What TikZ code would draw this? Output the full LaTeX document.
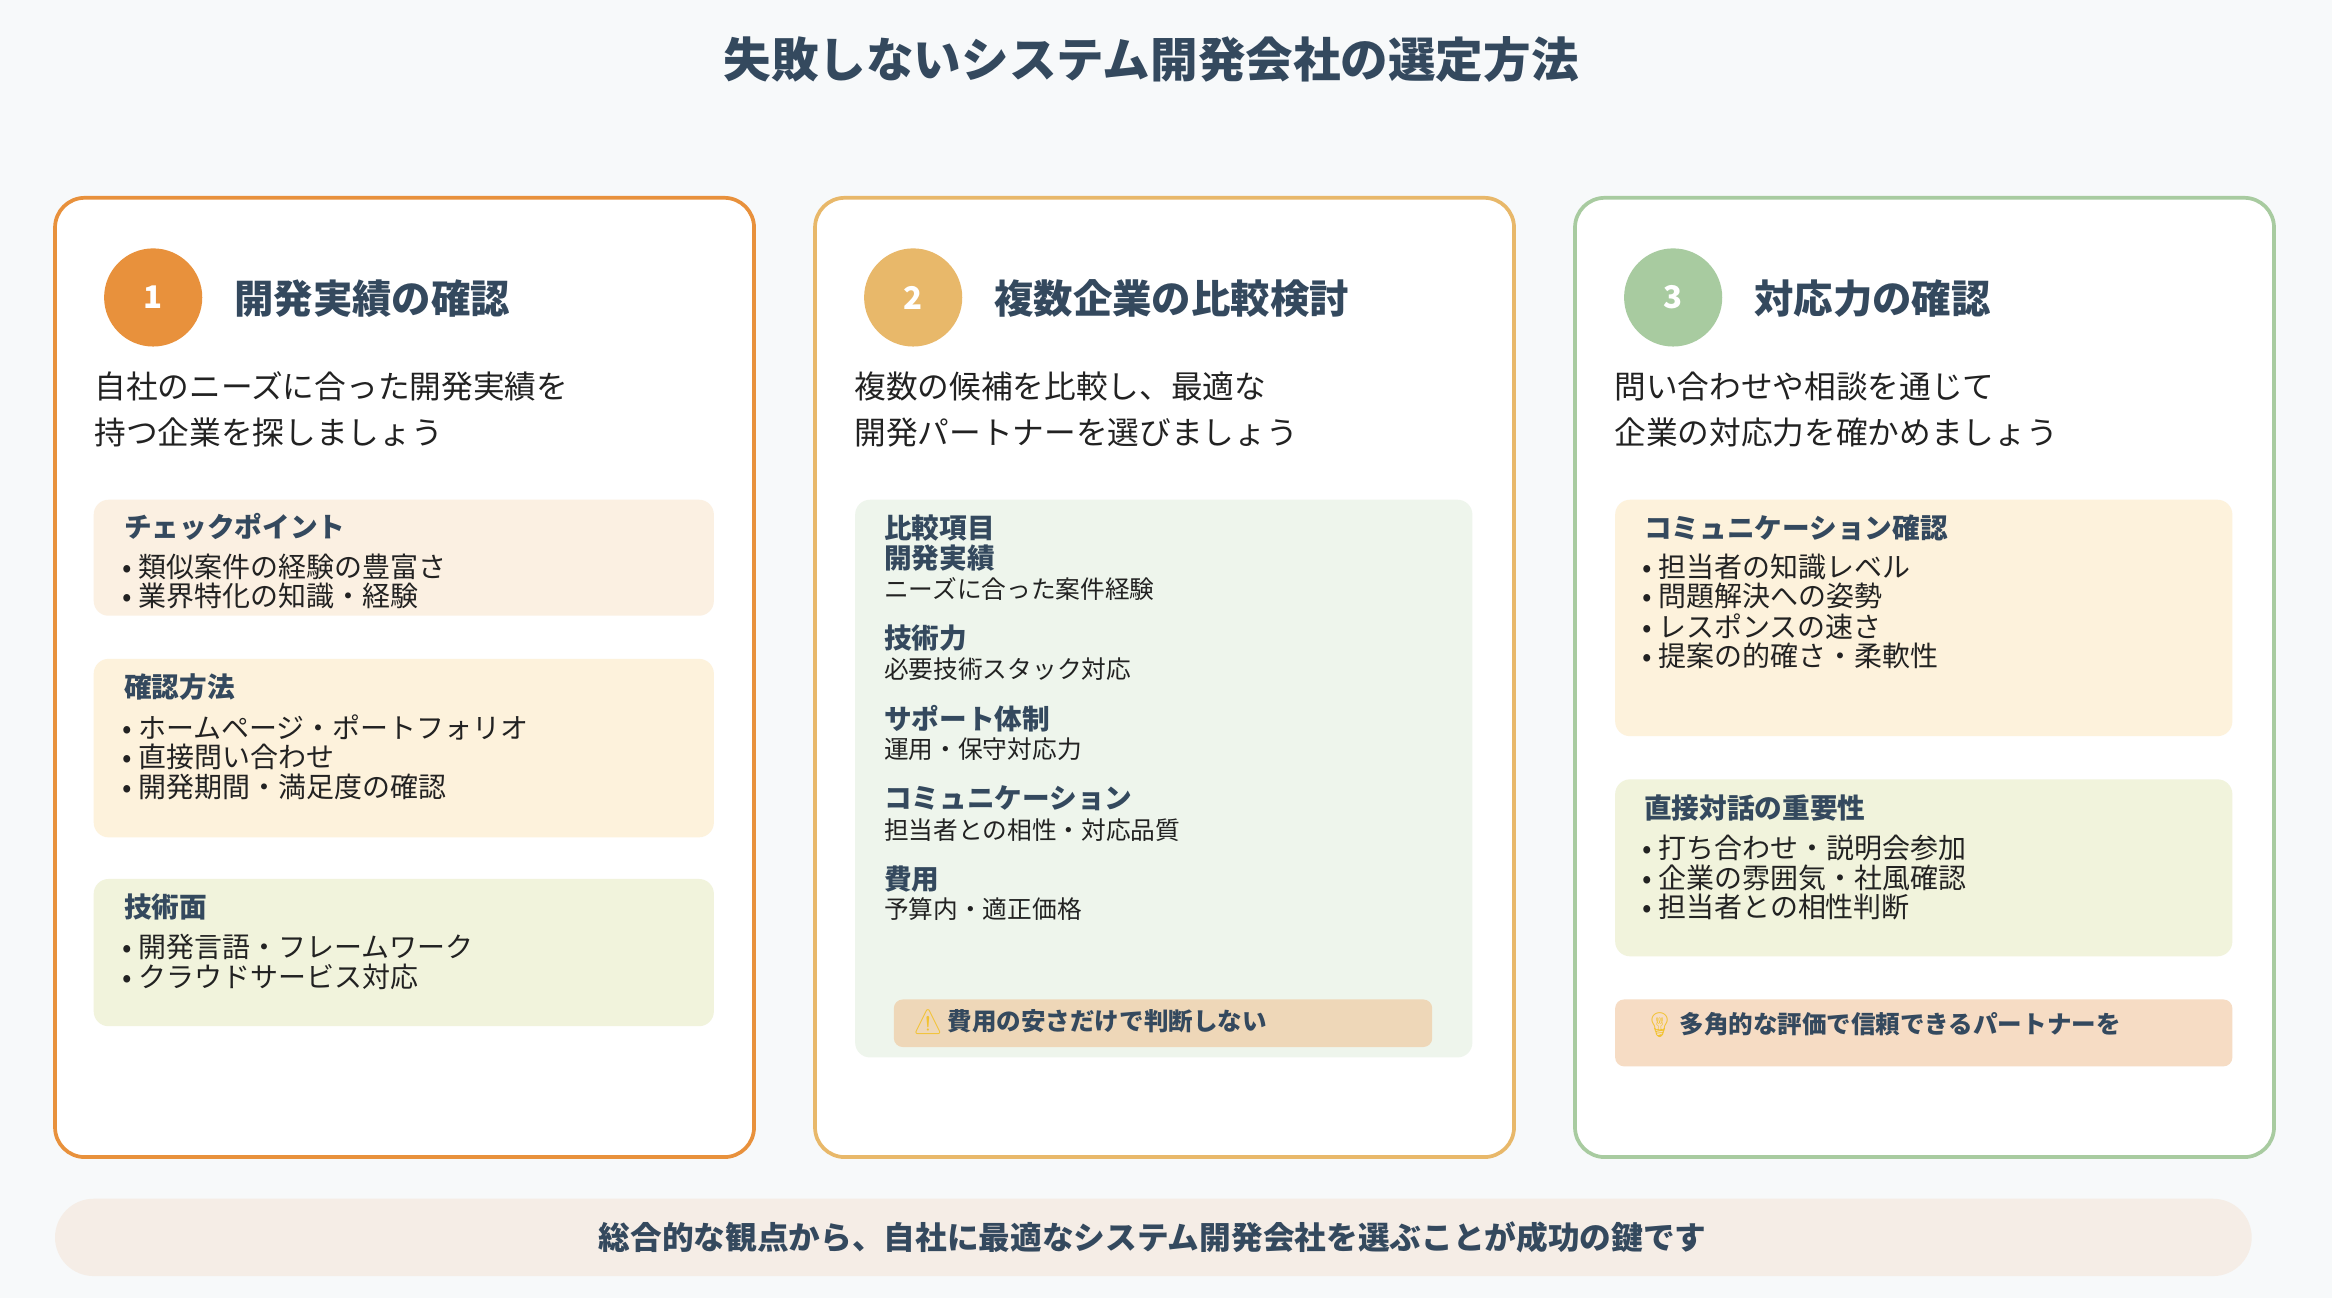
\documentclass[tikz,border=0pt]{standalone}
\usepackage{fontspec}
\setmainfont{Noto Sans CJK JP}
\newfontfamily\emo{Noto Emoji}
\definecolor{bg}{HTML}{F7F9FA}
\definecolor{hd}{HTML}{34495E}
\definecolor{tx}{HTML}{222222}
\definecolor{cA}{HTML}{E8913C}
\definecolor{cB}{HTML}{E8B86A}
\definecolor{cC}{HTML}{A8CBA0}
\definecolor{fA}{HTML}{FBF0E2}
\definecolor{fB}{HTML}{FDF2DC}
\definecolor{fC}{HTML}{F1F3DC}
\definecolor{fG}{HTML}{EEF5EC}
\definecolor{fW}{HTML}{EED7B8}
\definecolor{fT}{HTML}{F6DCC4}
\definecolor{fF}{HTML}{F5EDE6}
\definecolor{wy}{HTML}{F2C230}
\tikzset{
 card/.style={draw=#1,line width=2.5pt,fill=white,rounded corners=20pt},
 sub/.style={fill=#1,rounded corners=10pt},
 num/.style={circle,fill=#1,minimum size=66pt,inner sep=0pt,text=white,font=\fontsize{21}{24}\selectfont\bfseries},
 head/.style={anchor=west,text=hd,font=\fontsize{26.5}{30}\selectfont\bfseries},
 desc/.style={anchor=west,text=tx,font=\fontsize{21.3}{24}\selectfont},
 bt/.style={anchor=west,text=hd,font=\fontsize{18.6}{21}\selectfont\bfseries},
 it/.style={anchor=west,text=tx,font=\fontsize{18.8}{21}\selectfont},
 sm/.style={anchor=west,text=tx,font=\fontsize{16.6}{19}\selectfont},
}
\begin{document}
\begin{tikzpicture}[x=1pt,y=-1pt]
\fill[bg] (0,0) rectangle (1568,873);
\node[text=hd,font=\fontsize{32}{36}\selectfont\bfseries] (title) at (774,40) {失敗しないシステム開発会社の選定方法};
% cards
\draw[card=cA] (37,133) rectangle (507,778);
\draw[card=cB] (548,133) rectangle (1018,778);
\draw[card=cC] (1059,133) rectangle (1529,778);
% card 1
\node[num=cA] (n1) at (103,200) {1};
\node[head] (h1) at (154,201) {開発実績の確認};
\node[desc] (d1a) at (60,260) {自社のニーズに合った開発実績を};
\node[desc] (d1b) at (60,291) {持つ企業を探しましょう};
\fill[sub=fA] (63,336) rectangle (480,414);
\node[bt] (b1t) at (80,354) {チェックポイント};
\node[it] (b1a) at (79,381) {• 類似案件の経験の豊富さ};
\node[it] (b1b) at (79,401) {• 業界特化の知識・経験};
\fill[sub=fB] (63,443) rectangle (480,563);
\node[bt] (b2t) at (80,462) {確認方法};
\node[it] (b2a) at (79,489) {• ホームページ・ポートフォリオ};
\node[it] (b2b) at (79,509) {• 直接問い合わせ};
\node[it] (b2c) at (79,529) {• 開発期間・満足度の確認};
\fill[sub=fC] (63,591) rectangle (480,690);
\node[bt] (b3t) at (80,610) {技術面};
\node[it] (b3a) at (79,637) {• 開発言語・フレームワーク};
\node[it] (b3b) at (79,657) {• クラウドサービス対応};
% card 2
\node[num=cB] (n2) at (614,200) {2};
\node[head] (h2) at (665,201) {複数企業の比較検討};
\node[desc] (d2a) at (571,260) {複数の候補を比較し、最適な};
\node[desc] (d2b) at (571,291) {開発パートナーを選びましょう};
\fill[sub=fG] (575,336) rectangle (990,711);
\node[bt] (c0) at (591,355) {比較項目};
\node[bt] (c1) at (591,375) {開発実績};
\node[sm] (c1s) at (591,396) {ニーズに合った案件経験};
\node[bt] (c2) at (591,429) {技術力};
\node[sm] (c2s) at (591,450) {必要技術スタック対応};
\node[bt] (c3) at (591,483) {サポート体制};
\node[sm] (c3s) at (591,504) {運用・保守対応力};
\node[bt] (c4) at (591,537) {コミュニケーション};
\node[sm] (c4s) at (591,558) {担当者との相性・対応品質};
\node[bt] (c5) at (591,591) {費用};
\node[sm] (c5s) at (591,611) {予算内・適正価格};
\fill[sub=fW,rounded corners=6pt] (601,672) rectangle (963,704);
\node[anchor=west,text=hd,font=\fontsize{16.5}{19}\selectfont\bfseries] (warn) at (610,687) {{\emo\color{wy}⚠}\,費用の安さだけで判断しない};
% card 3
\node[num=cC] (n3) at (1125,200) {3};
\node[head] (h3) at (1176,201) {対応力の確認};
\node[desc] (d3a) at (1082,260) {問い合わせや相談を通じて};
\node[desc] (d3b) at (1082,291) {企業の対応力を確かめましょう};
\fill[sub=fB] (1086,336) rectangle (1501,495);
\node[bt] (e0) at (1102,355) {コミュニケーション確認};
\node[it] (e1) at (1101,381) {• 担当者の知識レベル};
\node[it] (e2) at (1101,401) {• 問題解決への姿勢};
\node[it] (e3) at (1101,421) {• レスポンスの速さ};
\node[it] (e4) at (1101,441) {• 提案の的確さ・柔軟性};
\fill[sub=fC] (1086,524) rectangle (1501,643);
\node[bt] (g0) at (1102,543) {直接対話の重要性};
\node[it] (g1) at (1101,570) {• 打ち合わせ・説明会参加};
\node[it] (g2) at (1101,590) {• 企業の雰囲気・社風確認};
\node[it] (g3) at (1101,610) {• 担当者との相性判断};
\fill[sub=fT,rounded corners=6pt] (1086,672) rectangle (1501,717);
\node[anchor=west,text=hd,font=\fontsize{16.5}{19}\selectfont\bfseries] (tip) at (1102,689) {{\emo\color{wy}💡}\,多角的な評価で信頼できるパートナーを};
% footer
\fill[fF,rounded corners=26pt] (37,806) rectangle (1514,858);
\node[text=hd,font=\fontsize{21.3}{24}\selectfont\bfseries] (foot) at (775,832) {総合的な観点から、自社に最適なシステム開発会社を選ぶことが成功の鍵です};
\end{tikzpicture}
\end{document}
